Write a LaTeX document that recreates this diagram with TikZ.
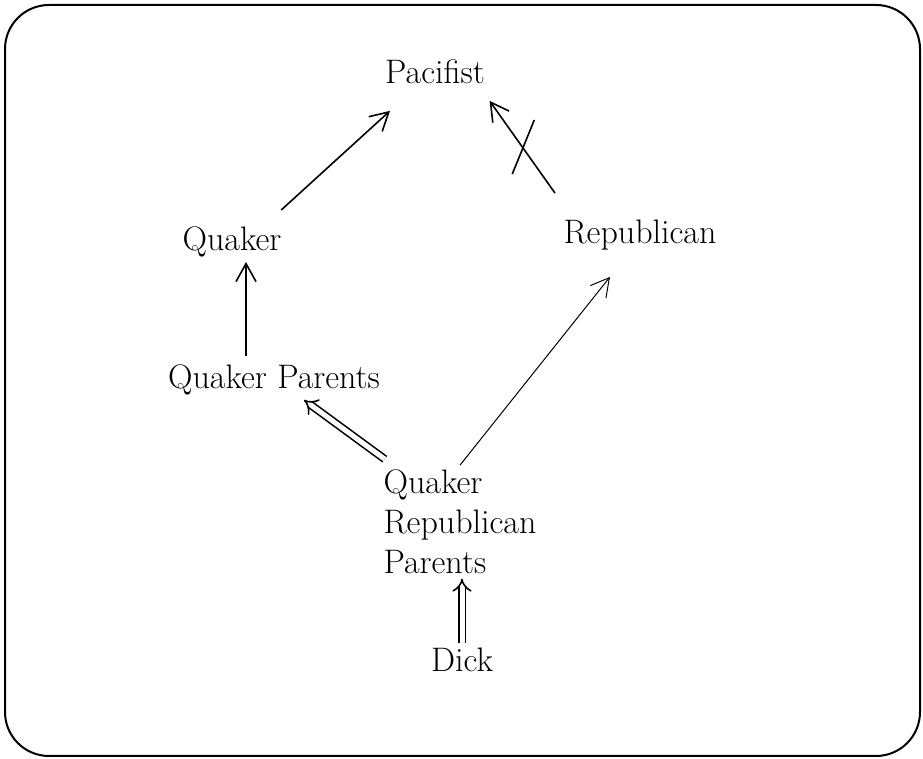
\documentclass[tikz,border=0pt]{standalone}
\usetikzlibrary{arrows.meta}
\begin{document}
\begin{tikzpicture}[x=0.5pt,y=-0.5pt,line width=0.8pt,
  font=\fontsize{17}{20}\selectfont,
  lbl/.style={inner sep=2pt},
  isa/.style={-{Straight Barb[length=9pt,width=10pt]}},
  dbl/.style={double,double distance=2.5pt,-{Implies[length=6pt]}},
  thin/.style={line width=0.5pt,-{Straight Barb[length=9pt,width=10pt]}}]
  \useasboundingbox (0,0) rectangle (923,759);
  \draw[line width=1pt,rounded corners=22pt] (5,5) rectangle (920,756);

  % knoten
  \node[lbl] (pac) at (435,72) {Pacifist};
  \node[lbl] (qua) at (232,242) {Quaker};
  \node[lbl] (rep) at (640,235) {Republican};
  \node[lbl] (qp) at (274,380) {Quaker Parents};
  \node[lbl,align=left] (qrp) at (460,522) {Quaker\\Republican\\Parents};
  \node[lbl] (dick) at (462,660) {Dick};

  % kanten
  \draw[isa] ([shift={(-5,-12)}]qua.north east) -- ([shift={(-45,22)}]pac.south);
  \draw[isa] ([shift={(-85,-22)}]rep.north) -- ([shift={(0,12)}]pac.south east)
    coordinate[pos=0.5] (neg);
  \draw ([shift={(12,-27)}]neg) -- ([shift={(-10,27)}]neg);
  \draw[isa] ([shift={(-28,-4)}]qp.north) -- ([shift={(14,0)}]qua.south);
  \draw[dbl] ([shift={(6,-6)}]qrp.north west) -- ([shift={(30,0)}]qp.south);
  \draw[thin] (qrp.north) -- ([shift={(-30,22)}]rep.south);
  \draw[dbl] (dick.north) -- (qrp.south -| dick.north);
\end{tikzpicture}
\end{document}
